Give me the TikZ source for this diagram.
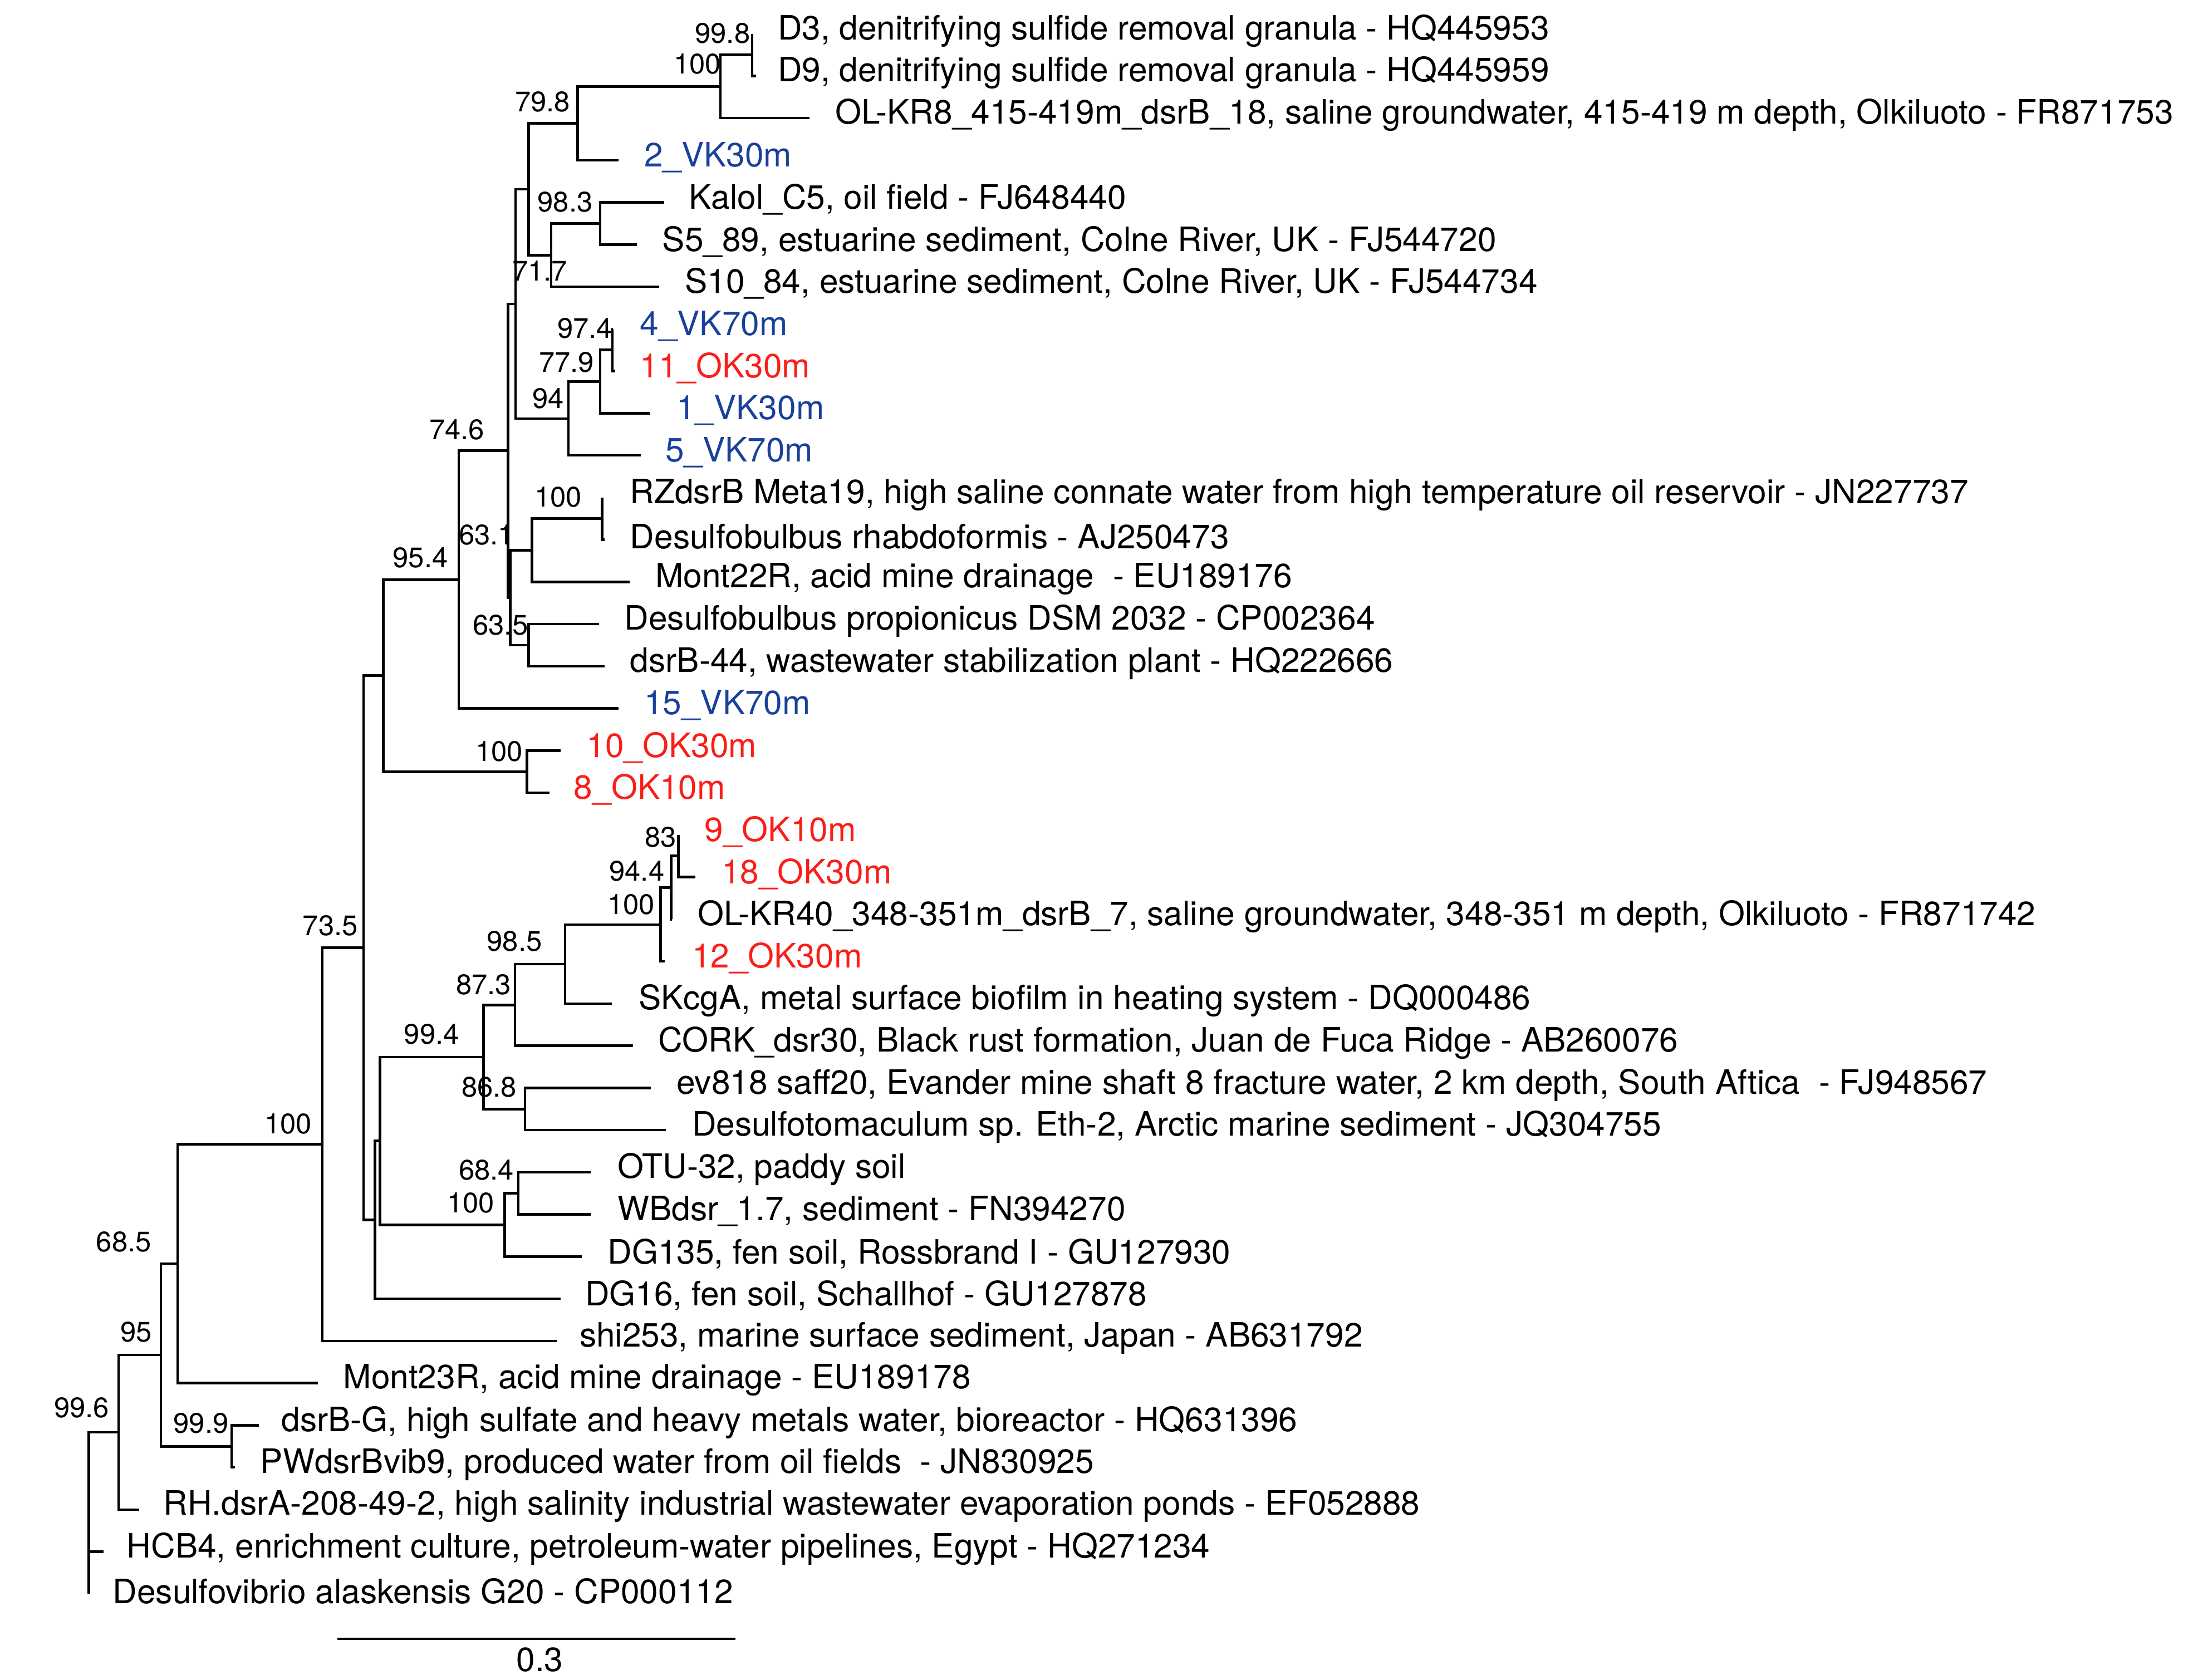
\documentclass[tikz,border=0pt]{standalone}
\usepackage{fontspec}
\setmainfont{TeX Gyre Heros}
\definecolor{vkblue}{RGB}{25,65,155}
\definecolor{okred}{RGB}{250,30,25}
\begin{document}
\begin{tikzpicture}[x=0.025cm,y=-0.025cm,
  br/.style={line width=1.3pt,line join=miter},
  leaf/.style={anchor=west,inner sep=0pt,yshift=1.5pt,font=\fontsize{17}{20}\selectfont},
  bs/.style={inner sep=0pt,yshift=1pt,font=\fontsize{14.3}{16}\selectfont},
  vk/.style={leaf,text=vkblue},
  ok/.style={leaf,text=okred}]
\useasboundingbox (0,0) rectangle (1560,1195);
% leaf tips
\coordinate (l0) at (535,24);   \coordinate (l1) at (538,54);
\coordinate (l2) at (576,84);   \coordinate (l3) at (440,114);
\coordinate (l4) at (472.6,144);\coordinate (l5) at (453,174);
\coordinate (l6) at (469,204);  \coordinate (l7) at (436,234);
\coordinate (l8) at (437.5,264);\coordinate (l9) at (462,294);
\coordinate (l10) at (456,324); \coordinate (l11) at (428.3,354);
\coordinate (l12) at (430,384); \coordinate (l13) at (448,414);
\coordinate (l14) at (426,444); \coordinate (l15) at (430,474);
\coordinate (l16) at (440,504); \coordinate (l17) at (399,534);
\coordinate (l18) at (391,564); \coordinate (l19) at (482.5,594);
\coordinate (l20) at (494.6,624);\coordinate (l21) at (478,654);
\coordinate (l22) at (472.8,684);\coordinate (l23) at (435.4,714);
\coordinate (l24) at (450.2,744);\coordinate (l25) at (463,774);
\coordinate (l26) at (473.8,804);\coordinate (l27) at (420,834);
\coordinate (l28) at (420,864); \coordinate (l29) at (413.8,894);
\coordinate (l30) at (399,924); \coordinate (l31) at (396,954);
\coordinate (l32) at (226,984); \coordinate (l33) at (184,1014);
\coordinate (l34) at (167,1044);\coordinate (l35) at (99.2,1074);
\coordinate (l36) at (73.8,1104);\coordinate (l37) at (63.2,1134);
% internal nodes
\coordinate (A) at (535,39);
\coordinate (B) at (512.5,61.5);
\coordinate (C) at (411,87.75);
\coordinate (D) at (427,159);
\coordinate (E) at (392,181.5);
\coordinate (F) at (376,134.6);
\coordinate (J) at (435.6,249);
\coordinate (I) at (427,271.5);
\coordinate (H) at (404.4,297.75);
\coordinate (G) at (366.7,216.2);
\coordinate (M) at (428.3,369);
\coordinate (N) at (378.5,391.5);
\coordinate (O) at (376,459);
\coordinate (L) at (363,425.25);
\coordinate (K) at (361.5,320.7);
\coordinate (P) at (326.3,412.4);
\coordinate (Q2) at (374.8,549);
\coordinate (Q) at (272.6,480.7);
\coordinate (Z3) at (482.5,609);
\coordinate (Z2) at (477.5,631.5);
\coordinate (Z) at (469.8,657.75);
\coordinate (Y) at (402,685.9);
\coordinate (X) at (366.3,715);
\coordinate (AA) at (373.4,789);
\coordinate (V) at (343.9,752);
\coordinate (AB) at (368.7,849);
\coordinate (W) at (359,871.5);
\coordinate (U) at (270.3,811.7);
\coordinate (T) at (266.7,867.9);
\coordinate (R) at (258.6,674.3);
\coordinate (S) at (229.3,814);
\coordinate (AD) at (126.3,899);
\coordinate (AF) at (164.7,1029);
\coordinate (AE) at (114.4,964);
\coordinate (AG) at (84.4,1019);
\coordinate (AH) at (63.2,1076.5);
% branches
\draw[br] (A)|-(l0) (A)|-(l1);
\draw[br] (B)|-(A) (B)|-(l2);
\draw[br] (C)|-(B) (C)|-(l3);
\draw[br] (D)|-(l4) (D)|-(l5);
\draw[br] (E)|-(D) (E)|-(l6);
\draw[br] (F)|-(C) (F)|-(E);
\draw[br] (J)|-(l7) (J)|-(l8);
\draw[br] (I)|-(J) (I)|-(l9);
\draw[br] (H)|-(I) (H)|-(l10);
\draw[br] (G)|-(F) (G)|-(H);
\draw[br] (M)|-(l11) (M)|-(l12);
\draw[br] (N)|-(M) (N)|-(l13);
\draw[br] (O)|-(l14) (O)|-(l15);
\draw[br] (L)|-(N) (L)|-(O);
\draw[br] (K)|-(G) (K)|-(L);
\draw[br] (P)|-(K) (P)|-(l16);
\draw[br] (Q2)|-(l17) (Q2)|-(l18);
\draw[br] (Q)|-(P) (Q)|-(Q2);
\draw[br] (Z3)|-(l19) (Z3)|-(l20);
\draw[br] (Z2)|-(Z3) (Z2)|-(l21);
\draw[br] (Z)|-(Z2) (Z)|-(l22);
\draw[br] (Y)|-(Z) (Y)|-(l23);
\draw[br] (X)|-(Y) (X)|-(l24);
\draw[br] (AA)|-(l25) (AA)|-(l26);
\draw[br] (V)|-(X) (V)|-(AA);
\draw[br] (AB)|-(l27) (AB)|-(l28);
\draw[br] (W)|-(AB) (W)|-(l29);
\draw[br] (U)|-(V) (U)|-(W);
\draw[br] (T)|-(U) (T)|-(l30);
\draw[br] (R)|-(Q) (R)|-(T);
\draw[br] (S)|-(R) (S)|-(l31);
\draw[br] (AD)|-(S) (AD)|-(l32);
\draw[br] (AF)|-(l33) (AF)|-(l34);
\draw[br] (AE)|-(AD) (AE)|-(AF);
\draw[br] (AG)|-(AE) (AG)|-(l35);
\draw[br] (AH)|-(AG) (AH)|-(l36) (AH)|-(l37);
% leaf labels
\node[leaf] (t0) at (553,24) {D3, denitrifying sulfide removal granula - HQ445953};
\node[leaf] (t1) at (553,54) {D9, denitrifying sulfide removal granula - HQ445959};
\node[leaf] (t2) at (594,84) {OL-KR8\_415-419m\_dsrB\_18, saline groundwater, 415-419 m depth, Olkiluoto - FR871753};
\node[vk] (t3) at (458,114) {2\_VK30m};
\node[leaf] (t4) at (490,144) {Kalol\_C5, oil field - FJ648440};
\node[leaf] (t5) at (471,174) {S5\_89, estuarine sediment, Colne River, UK - FJ544720};
\node[leaf] (t6) at (487,204) {S10\_84, estuarine sediment, Colne River, UK - FJ544734};
\node[vk] (t7) at (455,234) {4\_VK70m};
\node[ok] (t8) at (455,264) {11\_OK30m};
\node[vk] (t9) at (481,294) {1\_VK30m};
\node[vk] (t10) at (473,324) {5\_VK70m};
\node[leaf] (t11) at (448,354) {RZdsrB Meta19, high saline connate water from high temperature oil reservoir - JN227737};
\node[leaf] (t12) at (448,384) {Desulfobulbus rhabdoformis - AJ250473};
\node[leaf] (t13) at (466,414) {Mont22R, acid mine drainage \ - EU189176};
\node[leaf] (t14) at (444,444) {Desulfobulbus propionicus DSM 2032 - CP002364};
\node[leaf] (t15) at (448,474) {dsrB-44, wastewater stabilization plant - HQ222666};
\node[vk] (t16) at (458,504) {15\_VK70m};
\node[ok] (t17) at (417,534) {10\_OK30m};
\node[ok] (t18) at (408,564) {8\_OK10m};
\node[ok] (t19) at (501,594) {9\_OK10m};
\node[ok] (t20) at (513,624) {18\_OK30m};
\node[leaf] (t21) at (496,654) {OL-KR40\_348-351m\_dsrB\_7, saline groundwater, 348-351 m depth, Olkiluoto - FR871742};
\node[ok] (t22) at (492,684) {12\_OK30m};
\node[leaf] (t23) at (454,714) {SKcgA, metal surface biofilm in heating system - DQ000486};
\node[leaf] (t24) at (468,744) {CORK\_dsr30, Black rust formation, Juan de Fuca Ridge - AB260076};
\node[leaf] (t25) at (481,774) {ev818 saff20, Evander mine shaft 8 fracture water, 2 km depth, South Aftica \ - FJ948567};
\node[leaf] (t26) at (492,804) {Desulfotomaculum sp. Eth-2, Arctic marine sediment - JQ304755};
\node[leaf] (t27) at (439,834) {OTU-32, paddy soil};
\node[leaf] (t28) at (439,864) {WBdsr\_1.7, sediment - FN394270};
\node[leaf] (t29) at (432,894) {DG135, fen soil, Rossbrand I - GU127930};
\node[leaf] (t30) at (416,924) {DG16, fen soil, Schallhof - GU127878};
\node[leaf] (t31) at (412,954) {shi253, marine surface sediment, Japan - AB631792};
\node[leaf] (t32) at (244,984) {Mont23R, acid mine drainage - EU189178};
\node[leaf] (t33) at (200,1014) {dsrB-G, high sulfate and heavy metals water, bioreactor - HQ631396};
\node[leaf] (t34) at (185,1044) {PWdsrBvib9, produced water from oil fields \ - JN830925};
\node[leaf] (t35) at (116,1074) {RH.dsrA-208-49-2, high salinity industrial wastewater evaporation ponds - EF052888};
\node[leaf] (t36) at (90,1104) {HCB4, enrichment culture, petroleum-water pipelines, Egypt - HQ271234};
\node[leaf] (t37) at (80,1134) {Desulfovibrio alaskensis G20 - CP000112};
% bootstrap values
\node[bs] (bA) at (514,25) {99.8};
\node[bs] (bB) at (496,47) {100};
\node[bs] (bC) at (386,74) {79.8};
\node[bs] (bE) at (402,145) {98.3};
\node[bs] (bF) at (384,194) {71.7};
\node[bs] (bJ) at (416,235) {97.4};
\node[bs] (bI) at (403,259) {77.9};
\node[bs] (bH) at (390,285) {94};
\node[bs] (bP) at (325,307) {74.6};
\node[bs] (bM) at (397,355) {100};
\node[bs] (bL) at (346,382) {63.1};
\node[bs] (bO) at (356,446) {63.5};
\node[bs] (bQ) at (299,398) {95.4};
\node[bs] (bQ2) at (355,536) {100};
\node[bs] (bZ3) at (470,597) {83};
\node[bs] (bZ2) at (453,621) {94.4};
\node[bs] (bZ) at (449,645) {100};
\node[bs] (bY) at (366,671) {98.5};
\node[bs] (bX) at (344,702) {87.3};
\node[bs] (bV) at (307,737) {99.4};
\node[bs] (bAA) at (348,775) {86.8};
\node[bs] (bAB) at (346,834) {68.4};
\node[bs] (bW) at (335,857) {100};
\node[bs] (bR) at (235,660) {73.5};
\node[bs] (bS) at (205,801) {100};
\node[bs] (bAD) at (88,885) {68.5};
\node[bs] (bAE) at (97,949) {95};
\node[bs] (bAG) at (58,1003) {99.6};
\node[bs] (bAF) at (143,1014) {99.9};
% scale bar
\coordinate (sb1) at (240,1166);
\coordinate (sb2) at (523,1166);
\draw[br] (sb1) -- (sb2);
\node[leaf,anchor=center] (sbl) at (384,1183) {0.3};
\end{tikzpicture}
\end{document}
